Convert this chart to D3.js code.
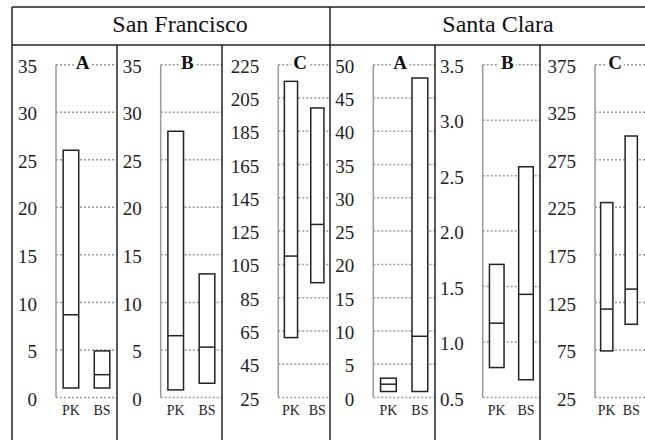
<!DOCTYPE html>
<html>
<head>
<meta charset="utf-8">
<script src="https://cdn.jsdelivr.net/npm/d3@7"></script>
<style>
  body { margin: 0; background: #fff; }
  svg { display: block; }
  svg text { font-family: 'Liberation Serif', 'Times New Roman', serif; }
  .tick-label { font-size: 19px; fill: #222; }
  .cat-label { font-size: 14px; fill: #222; }
  .panel-title { font-size: 19px; font-weight: bold; fill: #111; }
  .region { font-size: 24px; fill: #111; }
</style>
</head>
<body>
<div id="chart"></div>
<script>
// Data
const regions = ['San Francisco', 'Santa Clara'];
const panelTitles = ['A', 'B', 'C', 'A', 'B', 'C'];
const groups = ['PK', 'BS'];

// box bottom / median / top for each panel, [PK, BS]
const boxMin = [[1, 1], [0.8, 1.5], [61, 94], [0.9, 0.9], [0.77, 0.66], [74, 102]];
const boxMed = [[8.7, 2.4], [6.5, 5.3], [110, 129], [2.0, 9.2], [1.17, 1.43], [118, 139]];
const boxMax = [[26, 4.9], [28, 13], [215, 199], [2.9, 48], [1.7, 2.58], [230, 300]];

const tickValues = [
  [0, 5, 10, 15, 20, 25, 30, 35],
  [0, 5, 10, 15, 20, 25, 30, 35],
  [25, 45, 65, 85, 105, 125, 145, 165, 185, 205, 225],
  [0, 5, 10, 15, 20, 25, 30, 35, 40, 45, 50],
  [0.5, 1.0, 1.5, 2.0, 2.5, 3.0, 3.5],
  [25, 75, 125, 175, 225, 275, 325, 375]
];
const tickFormats = ['d', 'd', 'd', 'd', '.1f', 'd'];

// Layout
const width = 645;
const height = 440;
const edges = [12, 117, 222, 330, 435, 540, 643];
const axisX = [56, 160.7, 278.3, 373.3, 482.7, 595];
const plotTop = 64.7;
const plotBottom = 397.5;
const frameTop = 7;
const headerBottom = 45;

const svg = d3
  .select('#chart')
  .append('svg')
  .attr('width', width)
  .attr('height', height);

panelTitles.forEach((title, i) => {
  const ticks = tickValues[i];
  const left = axisX[i];
  const right = edges[i + 1];
  const g = svg.append('g');

  const y = d3.scaleLinear([ticks[0], ticks[ticks.length - 1]], [plotBottom, plotTop]);
  const x = d3.scaleBand(groups, [left, right]).paddingInner(0.5).paddingOuter(0.23);

  // dotted grid
  g.append('g')
    .selectAll('line')
    .data(ticks)
    .join('line')
    .attr('x1', left)
    .attr('x2', i === 5 ? width : right)
    .attr('y1', (d) => y(d))
    .attr('y2', (d) => y(d))
    .attr('stroke', '#9a9a9a')
    .attr('stroke-width', 1.5)
    .attr('stroke-dasharray', '2,2');

  // grey axis line
  g.append('line')
    .attr('x1', left)
    .attr('x2', left)
    .attr('y1', plotTop)
    .attr('y2', plotBottom)
    .attr('stroke', '#9a9a9a')
    .attr('stroke-width', 1.5);

  // tick labels
  const yAxis = g
    .append('g')
    .attr('transform', `translate(${left}, 0)`)
    .call(d3.axisLeft(y).tickValues(ticks).tickFormat(d3.format(tickFormats[i])).tickSize(0).tickPadding(19))
    .attr('font-family', null)
    .attr('font-size', null);
  yAxis.select('.domain').remove();
  yAxis
    .selectAll('text')
    .attr('class', 'tick-label')
    .attr('fill', null)
    .attr('dy', '0.4em');

  // category labels
  const xAxis = g
    .append('g')
    .attr('transform', `translate(0, ${plotBottom})`)
    .call(d3.axisBottom(x).tickSize(0).tickPadding(8))
    .attr('font-family', null)
    .attr('font-size', null);
  xAxis.select('.domain').remove();
  xAxis
    .selectAll('text')
    .attr('class', 'cat-label')
    .attr('fill', null);

  // boxes
  const boxes = g
    .append('g')
    .selectAll('g')
    .data(groups)
    .join('g');

  boxes
    .append('rect')
    .attr('x', (d) => x(d))
    .attr('width', x.bandwidth())
    .attr('y', (d, j) => y(boxMax[i][j]))
    .attr('height', (d, j) => y(boxMin[i][j]) - y(boxMax[i][j]))
    .attr('fill', '#fff')
    .attr('stroke', '#222')
    .attr('stroke-width', 1.5);

  boxes
    .append('line')
    .attr('x1', (d) => x(d))
    .attr('x2', (d) => x(d) + x.bandwidth())
    .attr('y1', (d, j) => y(boxMed[i][j]))
    .attr('y2', (d, j) => y(boxMed[i][j]))
    .attr('stroke', '#222')
    .attr('stroke-width', 1.5);

  // panel title on a white patch over the top grid line
  const cx = (left + right) / 2 - 4;
  const bg = g.append('rect').attr('fill', '#fff');
  const t = g
    .append('text')
    .attr('class', 'panel-title')
    .attr('x', cx)
    .attr('y', plotTop + 4)
    .attr('text-anchor', 'middle')
    .text(title);
  const bb = t.node().getBBox();
  bg.attr('x', bb.x - 2).attr('y', plotTop - 2).attr('width', bb.width + 4).attr('height', 4);
});

// frame lines
const frame = svg.append('g').attr('stroke', '#222').attr('stroke-width', 1.5).attr('fill', 'none');
frame.append('line').attr('x1', edges[0]).attr('x2', width).attr('y1', frameTop).attr('y2', frameTop);
frame.append('line').attr('x1', edges[0]).attr('x2', width).attr('y1', headerBottom).attr('y2', headerBottom);
frame
  .selectAll('.v')
  .data(edges.slice(0, 6))
  .join('line')
  .attr('x1', (d) => d)
  .attr('x2', (d) => d)
  .attr('y1', (d, i) => (i % 3 === 0 ? frameTop : headerBottom))
  .attr('y2', height);

// region headers
const regionCenter = [180, 498];
svg
  .selectAll('.region')
  .data(regions)
  .join('text')
  .attr('class', 'region')
  .attr('x', (d, i) => regionCenter[i])
  .attr('y', 32)
  .attr('text-anchor', 'middle')
  .text((d) => d);
</script>
</body>
</html>
